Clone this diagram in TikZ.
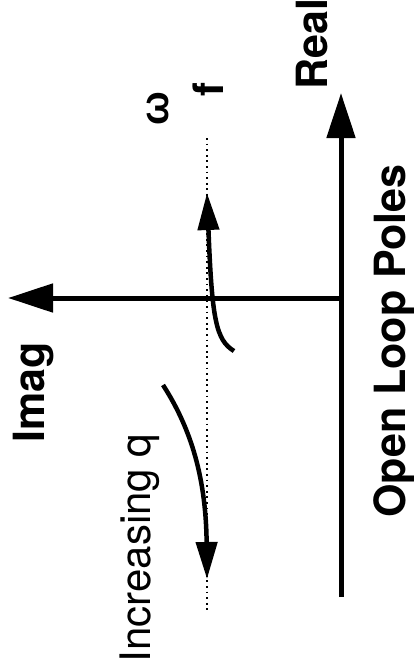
\documentclass[tikz,border=0pt]{standalone}
\usepackage{fontspec}
\setmainfont{TeX Gyre Heros}
\newfontfamily\grk{Liberation Sans}
\usetikzlibrary{arrows.meta}
\tikzset{
  axis/.style={line width=5pt, -{Triangle[length=45pt,width=28pt]}},
  locus/.style={line width=4.5pt, -{Triangle[length=37pt,width=21pt]}},
  guide/.style={line width=1.8pt, dash pattern=on 1.8pt off 3.8pt},
  lbl/.style={rotate=90, inner sep=0pt, anchor=base},
  boldlbl/.style={lbl, font=\fontsize{43}{50}\selectfont\bfseries},
}
\begin{document}
\begin{tikzpicture}[x=1pt,y=-1pt]
\useasboundingbox (0,0) rectangle (413,670);
% axes
\coordinate (o) at (341,298);
\coordinate (rb) at (341,597);
\coordinate (rt) at (341,93);
\coordinate (il) at (8,298);
\draw[axis] (rb) -- (rt);
\draw[axis] (o) -- (il);
% dotted guide
\coordinate (g1) at (207,138);
\coordinate (g2) at (207,610);
\draw[guide] (g1) -- (g2);
% upper locus
\coordinate (u0) at (234,351);
\coordinate (u1) at (207,193);
\draw[locus] (u0) .. controls (216,340) and (212,320) .. (u1);
% lower locus
\coordinate (l0) at (163,385);
\coordinate (l1) at (207,579);
\draw[locus] (l0) .. controls (192,430) and (206,480) .. (l1);
% labels
\node[boldlbl] (imag) at (45,392) {Imag};
\node[boldlbl] (real) at (327,44) {Real};
\node[boldlbl] (olp) at (405,341) {Open Loop Poles};
\node[lbl, font=\fontsize{42}{50}\selectfont] (inc) at (150,548) {Increasing q};
\node[lbl, font=\fontsize{40}{46}\selectfont\grk\bfseries] (omega) at (168,109) {ω};
\node[boldlbl, font=\fontsize{42}{50}\selectfont\bfseries] (f) at (223,90) {f};
\end{tikzpicture}
\end{document}
